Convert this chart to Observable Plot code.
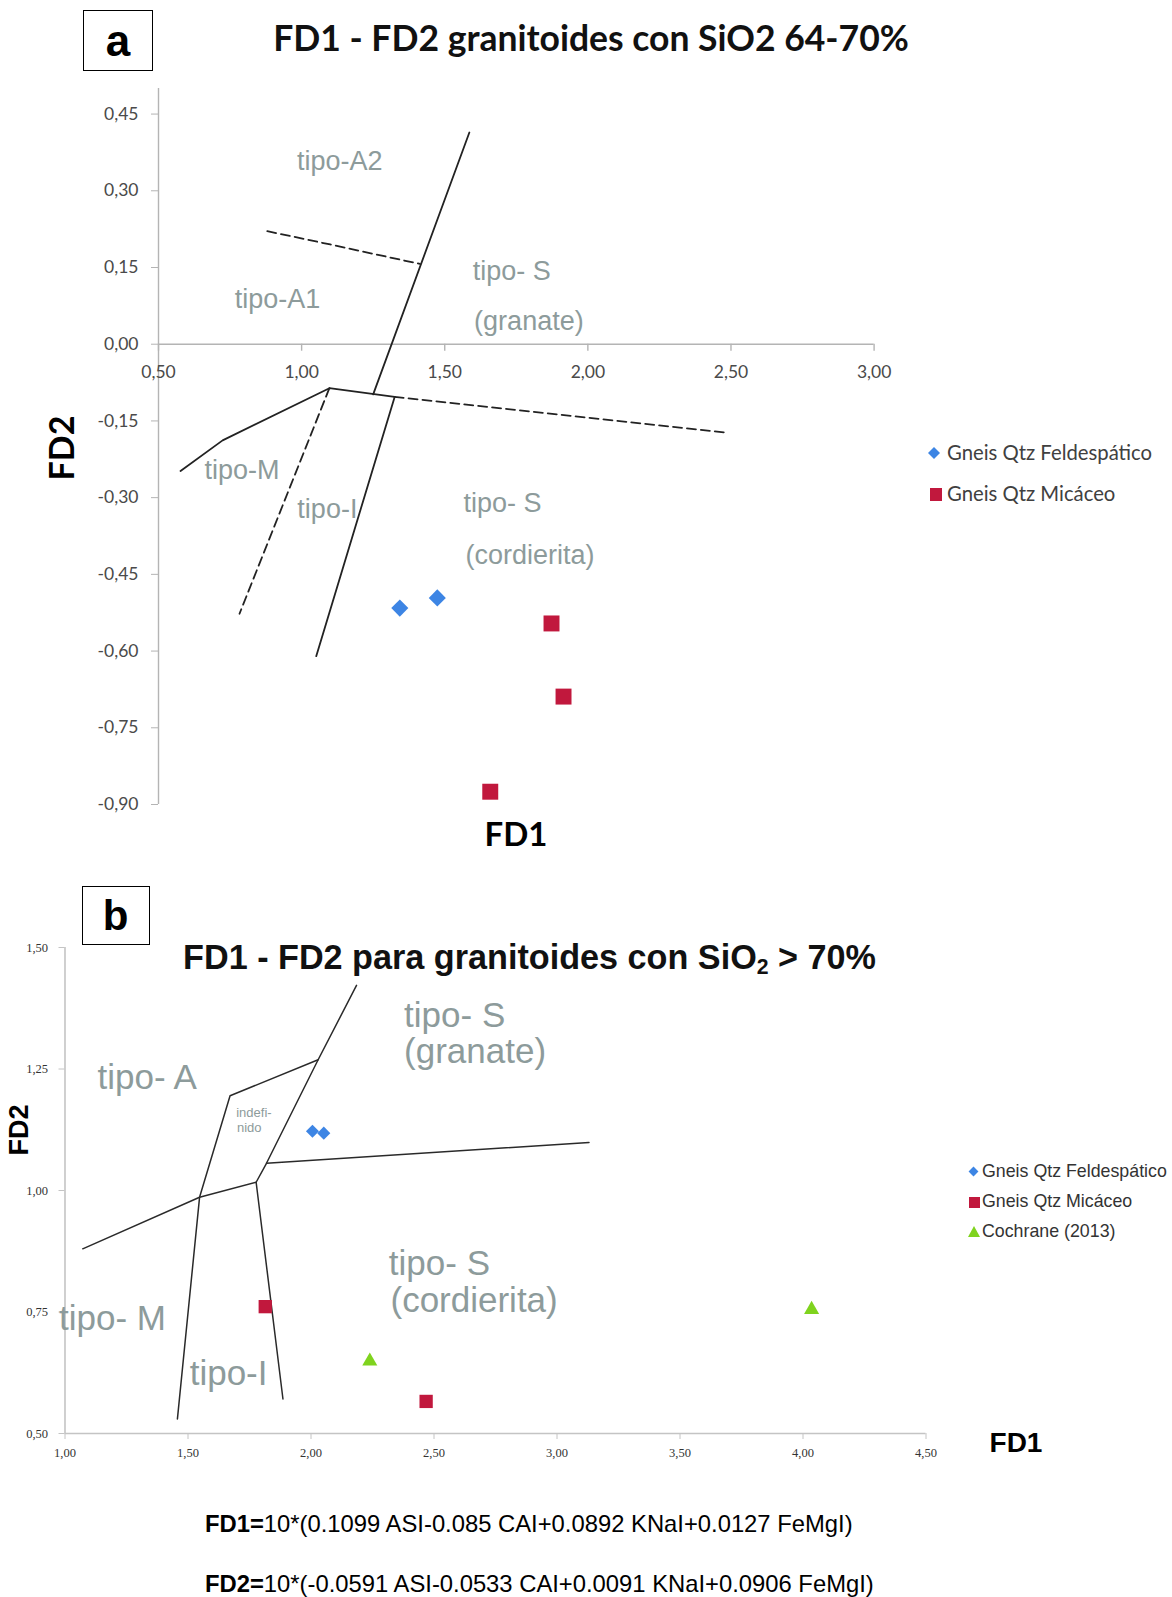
<!DOCTYPE html>
<html><head><meta charset="utf-8">
<script src="https://cdn.jsdelivr.net/npm/d3@7"></script>
<script src="https://cdn.jsdelivr.net/npm/@observablehq/plot@0.6"></script>
<style>
html,body{margin:0;padding:0;background:#fff;}
#page{position:relative;width:1172px;height:1597px;overflow:hidden;font-family:"Liberation Sans",Arial,sans-serif;color:#000;}
.abs{position:absolute;white-space:nowrap;line-height:1;}
.box{position:absolute;border:1.6px solid #000;box-sizing:border-box;display:flex;align-items:center;justify-content:center;font-weight:bold;font-family:"Liberation Sans",Arial,sans-serif;}
.sw{position:absolute;}
</style></head>
<body><div id="page"></div>
<script>
// ---------------- DATA: chart a (SiO2 64-70%) ----------------
const xTicksA = [0.5, 1.0, 1.5, 2.0, 2.5, 3.0];
const yTicksA = [0.45, 0.30, 0.15, 0.00, -0.15, -0.30, -0.45, -0.60, -0.75, -0.90];
const feldA_fd1 = [1.343, 1.474];
const feldA_fd2 = [-0.516, -0.496];
const micaA_fd1 = [1.873, 1.915, 1.659];
const micaA_fd2 = [-0.546, -0.689, -0.875];
const solidA = [
  [[1.586, 0.414], [1.25, -0.098]],
  [[0.577, -0.248], [0.724, -0.188], [1.097, -0.086], [1.325, -0.103]],
  [[1.325, -0.103], [1.051, -0.610]]
];
const dashedA = [
  [[1.325, -0.103], [2.488, -0.173]],
  [[1.097, -0.086], [0.783, -0.527]],
  [[0.880, 0.221], [1.100, 0.195], [1.413, 0.157]]
];
const regionA_text = ["tipo-A2", "tipo-A1", "tipo- S", "(granate)", "tipo-M", "tipo-I", "tipo- S", "(cordierita)"];
const regionA_fd1 = [1.133, 0.916, 1.734, 1.794, 0.792, 1.090, 1.702, 1.798];
const regionA_fd2 = [0.357, 0.088, 0.143, 0.044, -0.247, -0.323, -0.311, -0.412];

// ---------------- DATA: chart b (SiO2 > 70%) ----------------
const xTicksB = [1.0, 1.5, 2.0, 2.5, 3.0, 3.5, 4.0, 4.5];
const yTicksB = [0.50, 0.75, 1.00, 1.25, 1.50];
const feldB_fd1 = [2.006, 2.052];
const feldB_fd2 = [1.122, 1.118];
const micaB_fd1 = [1.814, 2.468];
const micaB_fd2 = [0.761, 0.566];
const cochB_fd1 = [2.239, 4.035];
const cochB_fd2 = [0.649, 0.755];
const linesB = [
  [[2.185, 1.422], [2.029, 1.269], [1.819, 1.056], [1.777, 1.017]],
  [[2.029, 1.269], [1.671, 1.195], [1.547, 0.986], [1.457, 0.530]],
  [[1.072, 0.880], [1.547, 0.986], [1.777, 1.017], [1.886, 0.571]],
  [[1.819, 1.056], [3.130, 1.099]]
];
const regionB_text = ["tipo- A", "tipo- S", "(granate)", "tipo- S", "(cordierita)", "tipo- M", "tipo-I"];
const regionB_fd1 = [1.334, 2.584, 2.667, 2.522, 2.663, 1.193, 1.665];
const regionB_fd2 = [1.232, 1.360, 1.286, 0.849, 0.774, 0.737, 0.622];
const smallB_text = ["indefi-", "nido"];
const smallB_fd1 = [1.768, 1.749];
const smallB_fd2 = [1.160, 1.128];

const legendA = ["Gneis Qtz Feldespático", "Gneis Qtz Micáceo"];
const legendB = ["Gneis Qtz Feldespático", "Gneis Qtz Micáceo", "Cochrane (2013)"];

// ---------------- helpers ----------------
const page = document.getElementById("page");
const fmt = v => v.toFixed(2).replace(".", ",");
const pts = (xs, ys) => xs.map((x, i) => ({fd1: x, fd2: ys[i]}));
const labels = (t, xs, ys) => t.map((s, i) => ({text: s, fd1: xs[i], fd2: ys[i]}));
const rows = (lines) => lines.flatMap((p, i) => p.map(([x, y]) => ({fd1: x, fd2: y, id: i})));
function div(html, left, top, style, cls = "abs") {
  const d = document.createElement("div");
  d.className = cls;
  d.innerHTML = html;
  d.style.left = left + "px";
  d.style.top = top + "px";
  Object.assign(d.style, style || {});
  page.appendChild(d);
  return d;
}
function centered(html, cx, cy, style) {
  return div(html, cx, cy, Object.assign({transform: "translate(-50%,-50%)"}, style));
}
const BLUE = "#3d85e4", RED = "#c1183d", GREEN = "#7fd31e";
const LBL = "#8d9b9b", LINE = "#222";

// ---------------- chart a ----------------
const plotA = Plot.plot({
  width: 1172, height: 850,
  marginLeft: 158, marginRight: 298.4, marginTop: 88, marginBottom: 46,
  x: {domain: [0.5, 3.0], axis: null},
  y: {domain: [-0.9, 0.5]},
  style: {background: "transparent", overflow: "visible"},
  marks: [
    Plot.ruleX([0.5], {stroke: "#b4b4b4", strokeWidth: 1.4}),
    Plot.ruleY([0], {stroke: "#b4b4b4", strokeWidth: 1.4}),
    Plot.axisY(yTicksA, {tickFormat: fmt, tickSize: 7, tickPadding: 13, fontSize: 17.5, fontFamily: "Lato, sans-serif", fill: "#4a4a4a", stroke: "#b4b4b4", label: null}),
    Plot.ruleX(xTicksA, {x: d => d, y1: 0, y2: 0, insetBottom: -7, stroke: "#b4b4b4", strokeWidth: 1.4}),
    Plot.text(xTicksA, {x: d => d, y: 0, text: fmt, dy: 28, fontSize: 17.5, fontFamily: "Lato, sans-serif", fill: "#4a4a4a"}),
    Plot.line(rows(solidA), {x: "fd1", y: "fd2", z: "id", stroke: LINE, strokeWidth: 1.8}),
    Plot.line(rows(dashedA), {x: "fd1", y: "fd2", z: "id", stroke: LINE, strokeWidth: 1.8, strokeDasharray: "9,5"}),
    Plot.text(labels(regionA_text, regionA_fd1, regionA_fd2), {x: "fd1", y: "fd2", text: "text", fontSize: 27, fontFamily: "Liberation Sans, Arial, sans-serif", fill: LBL}),
    Plot.dot(pts(feldA_fd1, feldA_fd2), {x: "fd1", y: "fd2", symbol: "diamond2", r: 7.7, fill: BLUE, stroke: "none"}),
    Plot.dot(pts(micaA_fd1, micaA_fd2), {x: "fd1", y: "fd2", symbol: "square", r: 9, fill: RED, stroke: "none"})
  ]
});
const wrapA = document.createElement("div");
wrapA.style.cssText = "position:absolute;left:0;top:0;";
wrapA.appendChild(plotA);
page.appendChild(wrapA);

// ---------------- chart b ----------------
const plotB = Plot.plot({
  width: 1172, height: 620,
  marginLeft: 64.5, marginRight: 246.5, marginTop: 87, marginBottom: 47,
  x: {domain: [1.0, 4.5]},
  y: {domain: [0.5, 1.5]},
  style: {background: "transparent", overflow: "visible"},
  marks: [
    Plot.ruleX([1.0], {stroke: "#c4c4c4", strokeWidth: 1.6}),
    Plot.ruleY([0.5], {stroke: "#c4c4c4", strokeWidth: 1.6}),
    Plot.axisY(yTicksB, {tickFormat: fmt, tickSize: 6, tickPadding: 11, fontSize: 12.5, fontFamily: "Liberation Serif, serif", fill: "#333", stroke: "#c4c4c4", label: null}),
    Plot.axisX(xTicksB, {tickFormat: fmt, tickSize: 6, tickPadding: 9, fontSize: 12.5, fontFamily: "Liberation Serif, serif", fill: "#333", stroke: "#c4c4c4", label: null}),
    Plot.line(rows(linesB), {x: "fd1", y: "fd2", z: "id", stroke: "#2a2a2a", strokeWidth: 1.5}),
    Plot.text(labels(regionB_text, regionB_fd1, regionB_fd2), {x: "fd1", y: "fd2", text: "text", fontSize: 35, fontFamily: "Liberation Sans, Arial, sans-serif", fill: LBL}),
    Plot.text(labels(smallB_text, smallB_fd1, smallB_fd2), {x: "fd1", y: "fd2", text: "text", fontSize: 13, fontFamily: "Liberation Sans, Arial, sans-serif", fill: LBL}),
    Plot.dot(pts(feldB_fd1, feldB_fd2), {x: "fd1", y: "fd2", symbol: "diamond2", r: 5.9, fill: BLUE, stroke: "none"}),
    Plot.dot(pts(micaB_fd1, micaB_fd2), {x: "fd1", y: "fd2", symbol: "square", r: 7.5, fill: RED, stroke: "none"}),
    Plot.dot(pts(cochB_fd1, cochB_fd2), {x: "fd1", y: "fd2", symbol: "triangle", r: 5.6, fill: GREEN, stroke: "none"})
  ]
});
const wrapB = document.createElement("div");
wrapB.style.cssText = "position:absolute;left:0;top:860px;";
wrapB.appendChild(plotB);
page.appendChild(wrapB);

// ---------------- text & decorations ----------------
// chart a
div("a", 83, 10, {width: "70px", height: "61px", fontSize: "44px"}, "box");
centered("FD1 - FD2 granitoides con SiO2 64-70%", 591, 38, {fontFamily: "Lato, sans-serif", fontWeight: "bold", fontSize: "35.5px", color: "#111"});
centered("FD2", 61, 448, {fontFamily: "Lato, sans-serif", fontWeight: "bold", fontSize: "34px", transform: "translate(-50%,-50%) rotate(-90deg)"});
centered("FD1", 516, 833, {fontFamily: "Lato, sans-serif", fontWeight: "bold", fontSize: "33px"});
// legend a
const legA_y = [453, 494];
div("", 929, legA_y[0] - 5, {width: "10px", height: "10px", background: BLUE, transform: "rotate(45deg) scale(0.85)"}, "sw");
div("", 930, legA_y[1] - 6.5, {width: "12px", height: "13px", background: RED}, "sw");
legendA.forEach((t, i) => div(t, 947, legA_y[i] - 11, {fontFamily: "Lato, sans-serif", fontSize: "20.3px", color: "#404040"}));

// chart b
div("b", 81.5, 886, {width: "68px", height: "59px", fontSize: "42px"}, "box");
centered("FD1 - FD2 para granitoides con SiO<sub style='font-size:0.62em;vertical-align:-0.25em;line-height:0'>2</sub> &gt; 70%", 529.5, 957, {fontWeight: "bold", fontSize: "34.2px", color: "#111"});
centered("FD2", 18.5, 1130, {fontWeight: "bold", fontSize: "27px", transform: "translate(-50%,-50%) rotate(-90deg)"});
centered("FD1", 1016, 1443, {fontWeight: "bold", fontSize: "28px"});
// legend b
const legB_y = [1172, 1202, 1232];
div("", 970, legB_y[0] - 4, {width: "7px", height: "7px", background: BLUE, transform: "rotate(45deg)"}, "sw");
div("", 968.5, legB_y[1] - 5.5, {width: "11px", height: "11px", background: RED}, "sw");
div("", 968, legB_y[2] - 6, {width: "0", height: "0", borderLeft: "6px solid transparent", borderRight: "6px solid transparent", borderBottom: "11px solid " + GREEN}, "sw");
legendB.forEach((t, i) => div(t, 982, legB_y[i] - 9, {fontSize: "17.8px", color: "#333"}));

// formulas
div("<b>FD1=</b>10*(0.1099 ASI-0.085 CAI+0.0892 KNaI+0.0127 FeMgI)", 205, 1524 - 12, {fontSize: "23.8px", color: "#000"});
div("<b>FD2=</b>10*(-0.0591 ASI-0.0533 CAI+0.0091 KNaI+0.0906 FeMgI)", 205, 1584 - 12, {fontSize: "23.8px", color: "#000"});
</script>
</body></html>
